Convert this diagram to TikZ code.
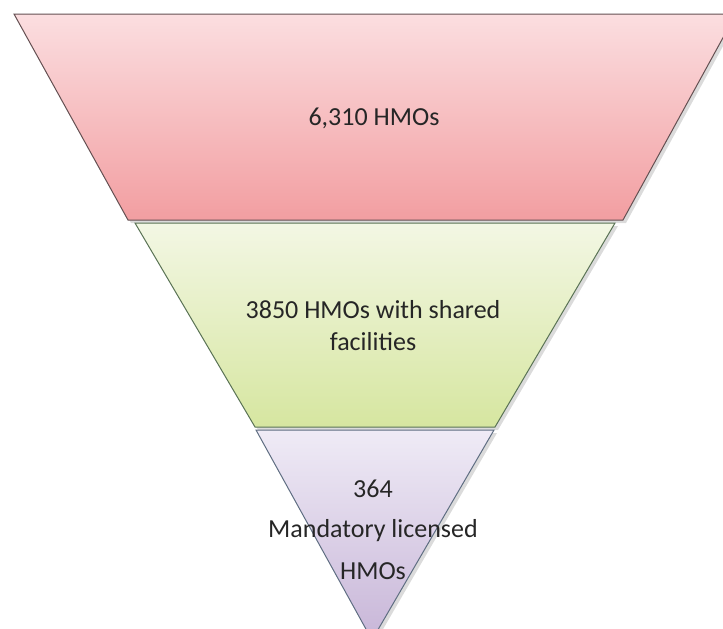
\documentclass[tikz,border=0pt]{standalone}
\usepackage{fontspec}
\setmainfont{Carlito}
\definecolor{redtop}{RGB}{251,222,224}
\definecolor{redbot}{RGB}{242,158,161}
\definecolor{redline}{RGB}{100,80,82}
\definecolor{greentop}{RGB}{243,247,228}
\definecolor{greenbot}{RGB}{214,230,160}
\definecolor{greenline}{RGB}{90,115,85}
\definecolor{purptop}{RGB}{239,235,246}
\definecolor{purpbot}{RGB}{200,182,216}
\definecolor{purpline}{RGB}{95,110,130}
\definecolor{txt}{RGB}{38,38,38}
\tikzset{
  bandshadow/.style={fill=black!40, opacity=0.35},
  label/.style={font=\fontsize{26}{31}\selectfont, text=txt, anchor=base, inner sep=0pt},
}
\begin{document}
\begin{tikzpicture}[x=1pt,y=-1pt]
\useasboundingbox (0,0) rectangle (723,629);
\clip (0,0) rectangle (723,629);
% shadows
\fill[bandshadow] (17,17) -- (739,17) -- (626,223) -- (131,223) -- cycle;
\fill[bandshadow] (138,226) -- (618,226) -- (498,430) -- (258,430) -- cycle;
\fill[bandshadow] (259,433) -- (497,433) -- (375,643) -- cycle;
% red band
\shade[top color=redtop, bottom color=redbot, draw=redline, line width=1pt]
  (14,14) -- (736,14) -- (623,220) -- (128,220) -- cycle;
% green band
\shade[top color=greentop, bottom color=greenbot, draw=greenline, line width=1pt]
  (135,223) -- (615,223) -- (495,427) -- (255,427) -- cycle;
% purple band
\shade[top color=purptop, bottom color=purpbot, draw=purpline, line width=1pt]
  (256,430) -- (494,430) -- (372,640) -- cycle;
% texts
\node[label] (t1) at (374,125) {6,310 HMOs};
\node[label] (t2a) at (373,318) {3850 HMOs with shared};
\node[label] (t2b) at (373,350) {facilities};
\node[label] (t3a) at (373,497) {364};
\node[label] (t3b) at (373,537) {Mandatory licensed};
\node[label] (t3c) at (373,579) {HMOs};
\end{tikzpicture}
\end{document}
